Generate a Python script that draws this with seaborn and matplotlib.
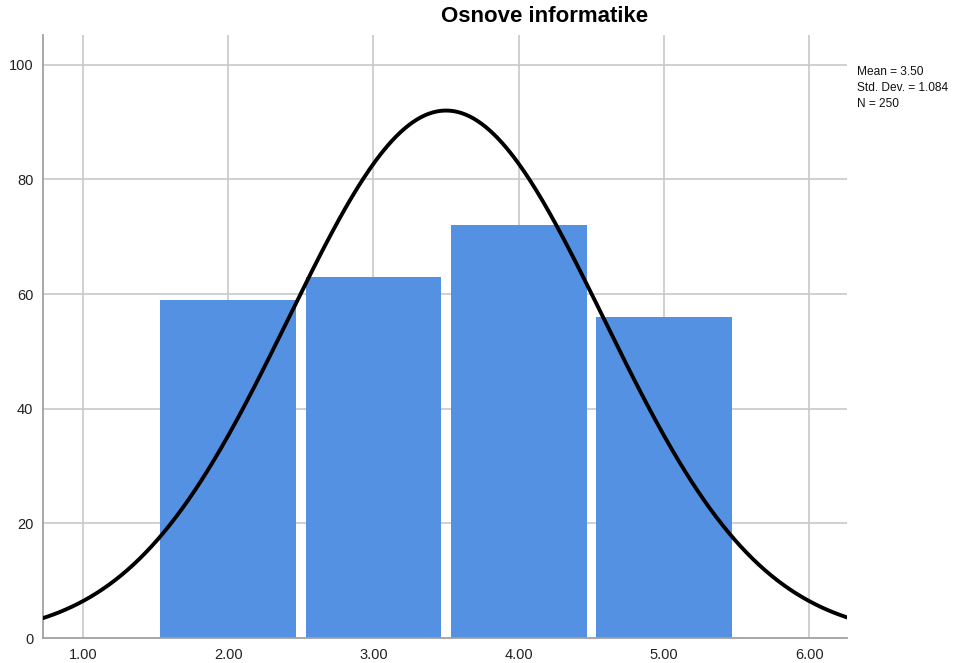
import numpy as np
import pandas as pd
import matplotlib
matplotlib.use("Agg")
import matplotlib.pyplot as plt
import seaborn as sns

# Data
scores = [2, 3, 4, 5]
counts = [59, 63, 72, 56]
x_ticks = [1, 2, 3, 4, 5, 6]
x_tick_labels = ["1.00", "2.00", "3.00", "4.00", "5.00", "6.00"]
y_ticks = [0, 20, 40, 60, 80, 100]
title = "Osnove informatike"

sns.set_style("white")
plt.rcParams["font.family"] = ["Liberation Sans", "DejaVu Sans"]

df = pd.DataFrame({"score": scores, "count": counts})
n = int(np.sum(counts))
mean = np.sum(np.array(scores) * np.array(counts)) / n
var = np.sum(np.array(counts) * (np.array(scores) - mean) ** 2) / (n - 1)
sd = np.sqrt(var)

fig = plt.figure(figsize=(9.76, 6.63), dpi=100)
ax = fig.add_axes([43 / 976, 25 / 663, (847 - 43) / 976, (638 - 35) / 663])

grid_c = "#c8c8c8"
for xv in x_ticks:
    ax.axvline(xv, color=grid_c, lw=1.2, zorder=0)
for yv in y_ticks[1:]:
    ax.axhline(yv, color=grid_c, lw=1.2, zorder=0)

sns.histplot(data=df, x="score", weights="count", discrete=True, shrink=0.935,
             color="#5591E2", alpha=1, edgecolor="none", linewidth=0, ax=ax, zorder=2)

xs = np.linspace(0.7, 6.3, 400)
ys = n * 1.0 * np.exp(-0.5 * ((xs - mean) / sd) ** 2) / (sd * np.sqrt(2 * np.pi))
sns.lineplot(x=xs, y=ys, color="black", lw=2.8, ax=ax, zorder=3)

ax.set_xlim(0.725, 6.26)
ax.set_ylim(0, 105.2)
ax.set_xticks(x_ticks)
ax.set_xticklabels(x_tick_labels)
ax.set_yticks(y_ticks)
ax.set_xlabel("")
ax.set_ylabel("")
ax.tick_params(axis="both", labelsize=10.5, colors="#222222", length=0)
ax.tick_params(axis="x", pad=7)
ax.tick_params(axis="y", pad=7)
for s in ["top", "right"]:
    ax.spines[s].set_visible(False)
for s in ["left", "bottom"]:
    ax.spines[s].set_color("#a0a0a0")
    ax.spines[s].set_linewidth(1.3)

fig.text(545 / 976, 1 - 17 / 663, title, ha="center", va="center",
         fontsize=16, fontweight="bold", color="black")
stats = f"Mean = {mean:.2f}\nStd. Dev. = {sd:.3f}\nN = {n}"
fig.text(857 / 976, 1 - 66 / 663, stats, ha="left", va="top", fontsize=8.6,
         linespacing=1.45, color="#111111")

fig.savefig("out.png", dpi=100)
